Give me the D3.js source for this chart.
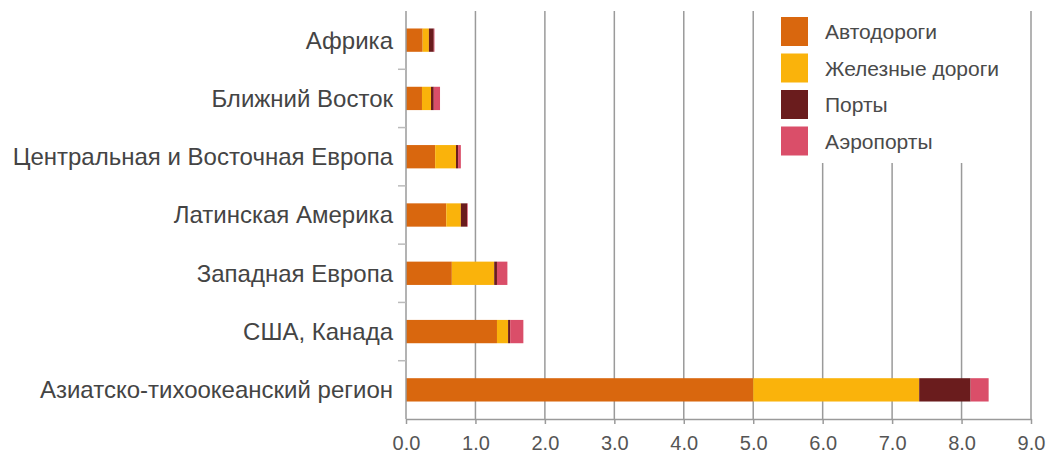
<!DOCTYPE html>
<html>
<head>
<meta charset="utf-8">
<script src="https://cdn.jsdelivr.net/npm/d3@7"></script>
<style>
  html, body { margin: 0; padding: 0; background: #fff; }
  svg { display: block; font-family: "Liberation Sans", Arial, sans-serif; }
</style>
</head>
<body>
<svg id="chart" width="1046" height="454"></svg>
<script>
// Regions (top to bottom)
const regions = [
  "Африка",
  "Ближний Восток",
  "Центральная и Восточная Европа",
  "Латинская Америка",
  "Западная Европа",
  "США, Канада",
  "Азиатско-тихоокеанский регион"
];
// Investment by infrastructure type, per region
const roads    = [0.24, 0.23, 0.42, 0.58, 0.66, 1.31, 5.00];
const railways = [0.09, 0.13, 0.30, 0.21, 0.61, 0.16, 2.39];
const ports    = [0.07, 0.04, 0.03, 0.09, 0.04, 0.03, 0.74];
const airports = [0.01, 0.09, 0.04, 0.01, 0.15, 0.19, 0.26];

const seriesNames  = ["Автодороги", "Железные дороги", "Порты", "Аэропорты"];
const seriesColors = ["#d9670e", "#fab30b", "#6a1c1d", "#da4e69"];
const xTicks = [0, 1, 2, 3, 4, 5, 6, 7, 8, 9];

const W = 1046, H = 454;
const margin = { top: 11, right: 15, bottom: 35, left: 406 };

const svg = d3.select("#chart");

const rows = regions.map((r, i) => ({
  region: r,
  "Автодороги": roads[i],
  "Железные дороги": railways[i],
  "Порты": ports[i],
  "Аэропорты": airports[i]
}));

const stack = d3.stack().keys(seriesNames)(rows);

const x = d3.scaleLinear().domain([0, 9]).range([margin.left, W - margin.right]);
const y = d3.scaleBand().domain(regions)
  .range([margin.top, H - margin.bottom])
  .paddingInner(0.6).paddingOuter(0.3);

// Vertical grid lines
svg.append("g").selectAll("line")
  .data(xTicks.filter(d => d > 0))
  .join("line")
  .attr("x1", d => x(d)).attr("x2", d => x(d))
  .attr("y1", margin.top).attr("y2", H - margin.bottom)
  .attr("stroke", "#9a9a9a").attr("stroke-width", 1.5);

// Stacked bars
svg.append("g").selectAll("g")
  .data(stack)
  .join("g")
  .attr("fill", (d, i) => seriesColors[i])
  .selectAll("rect")
  .data(d => d)
  .join("rect")
  .attr("x", d => x(d[0]))
  .attr("width", d => Math.max(0, x(d[1]) - x(d[0])))
  .attr("y", d => y(d.data.region))
  .attr("height", y.bandwidth());

// Legend panel sits above the grid
const lg = svg.append("g");
lg.append("rect")
  .attr("x", 770).attr("y", 0).attr("width", 252).attr("height", 163)
  .attr("fill", "#fff");
const lgItems = lg.selectAll("g.item")
  .data(seriesNames)
  .join("g")
  .attr("class", "item")
  .attr("transform", (d, i) => `translate(781, ${17 + i * 36.5})`);
lgItems.append("rect")
  .attr("width", 27).attr("height", 29)
  .attr("fill", (d, i) => seriesColors[i]);
lgItems.append("text")
  .attr("x", 44).attr("y", 15).attr("dy", "0.35em")
  .attr("font-size", 21).attr("fill", "#4a4a4a")
  .text(d => d);

// X axis
const xAxis = d3.axisBottom(x)
  .tickValues(xTicks)
  .tickFormat(d3.format(".1f"))
  .tickSize(5)
  .tickSizeOuter(0);
const gx = svg.append("g")
  .attr("transform", `translate(0, ${H - margin.bottom})`)
  .call(xAxis);
gx.select(".domain").attr("stroke", "#9a9a9a").attr("stroke-width", 1.5);
gx.selectAll(".tick line").attr("stroke", "#9a9a9a").attr("stroke-width", 1.5);
gx.selectAll(".tick text")
  .attr("font-size", 20).attr("fill", "#555").attr("y", 16.5)
  .attr("font-family", "'Liberation Sans', Arial, sans-serif");

// Y axis line and band separators
svg.append("line")
  .attr("x1", x(0)).attr("x2", x(0))
  .attr("y1", margin.top).attr("y2", H - margin.bottom)
  .attr("stroke", "#9a9a9a").attr("stroke-width", 1.5);
svg.append("g").selectAll("line")
  .data(regions.slice(1))
  .join("line")
  .attr("x1", x(0) - 8).attr("x2", x(0))
  .attr("y1", d => y(d) - y.step() * y.paddingInner() / 2)
  .attr("y2", d => y(d) - y.step() * y.paddingInner() / 2)
  .attr("stroke", "#bbb").attr("stroke-width", 1.5);

// Region labels
svg.append("g").selectAll("text")
  .data(regions)
  .join("text")
  .attr("x", 393)
  .attr("y", d => y(d) + y.bandwidth() / 2)
  .attr("dy", "0.35em")
  .attr("text-anchor", "end")
  .attr("font-size", 24)
  .attr("fill", "#444")
  .text(d => d);
</script>
</body>
</html>
